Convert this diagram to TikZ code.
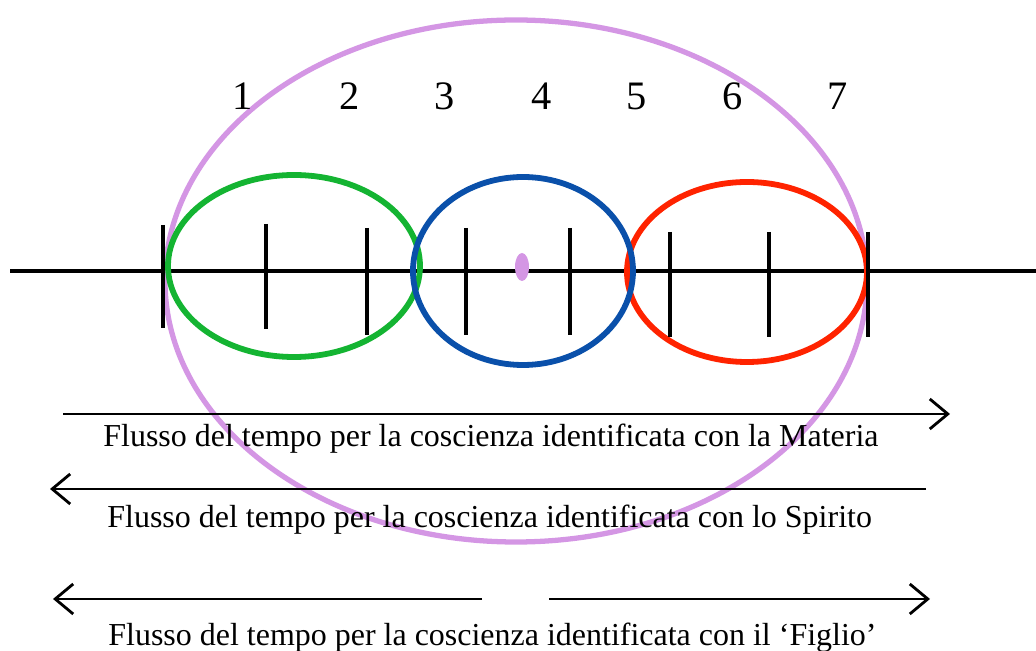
\documentclass[tikz,border=0pt]{standalone}
\usepackage{fontspec}
\setmainfont{Liberation Serif}
\usetikzlibrary{arrows.meta}
\definecolor{timegreen}{RGB}{20, 180, 50}
\definecolor{timeblue}{RGB}{10, 80, 170}
\definecolor{timered}{RGB}{255, 35, 0}
\definecolor{timelilac}{RGB}{212, 150, 228}

\begin{document}
\begin{tikzpicture}[
    x=0.02cm, y=-0.02cm,
    axis/.style={line width=1.9pt, black},
    timetick/.style={line width=1.9pt, black},
    ring/.style={line width=3.3pt},
    flow/.style={line width=1.6pt, -{Straight Barb[length=0.36cm, width=0.6cm, line width=1.6pt]}},
    flowlabel/.style={anchor=base west, inner sep=0pt, font=\fontsize{18.2}{20}\selectfont},
    numlabel/.style={anchor=base, inner sep=0pt, font=\fontsize{23}{26}\selectfont},
]
\useasboundingbox (0,0) rectangle (1036,651);

% Time axis
\coordinate (axisL) at (10,271);
\coordinate (axisR) at (1036,271);
\draw[axis] (axisL) -- (axisR);

% Rings
\draw[ring, timelilac, line width=3pt] (516,281) ellipse [x radius=351, y radius=261];
\draw[ring, timegreen] (294,266) ellipse [x radius=126, y radius=91];
\draw[ring, timered] (747,272) ellipse [x radius=120, y radius=90];
\draw[ring, timeblue] (523,271) ellipse [x radius=110, y radius=94];

% Ticks
\foreach \x/\t/\b in {163/225/328, 266/224/329, 367/228/335, 466/228/335,
                      570/228/335, 670/232/337, 769/232/337, 868/232/337}
    \draw[timetick] (\x,\t) -- (\x,\b);

% Centre
\fill[timelilac] (522,267) ellipse [x radius=7, y radius=14];

% Numbers
\foreach \n/\x in {1/243, 2/350, 3/445, 4/542, 5/637, 6/733, 7/838}
    \node[numlabel] (num\n) at (\x,110) {\n};

% Flow arrows
\coordinate (mat0) at (63,414);
\coordinate (mat1) at (950,414);
\coordinate (spi0) at (926,489);
\coordinate (spi1) at (50,489);
\coordinate (figL0) at (482,599);
\coordinate (figL1) at (53,599);
\coordinate (figR0) at (549,599);
\coordinate (figR1) at (930,599);
\draw[flow] (mat0) -- (mat1);
\draw[flow] (spi0) -- (spi1);
\draw[flow] (figL0) -- (figL1);
\draw[flow] (figR0) -- (figR1);

% Labels
\node[flowlabel] (materia) at (103,447) {Flusso del tempo per la coscienza identificata con la Materia};
\node[flowlabel] (spirito) at (107,528) {Flusso del tempo per la coscienza identificata con lo Spirito};
\node[flowlabel] (figlio) at (108,646) {Flusso del tempo per la coscienza identificata con il ‘Figlio’};

\end{tikzpicture}
\end{document}
